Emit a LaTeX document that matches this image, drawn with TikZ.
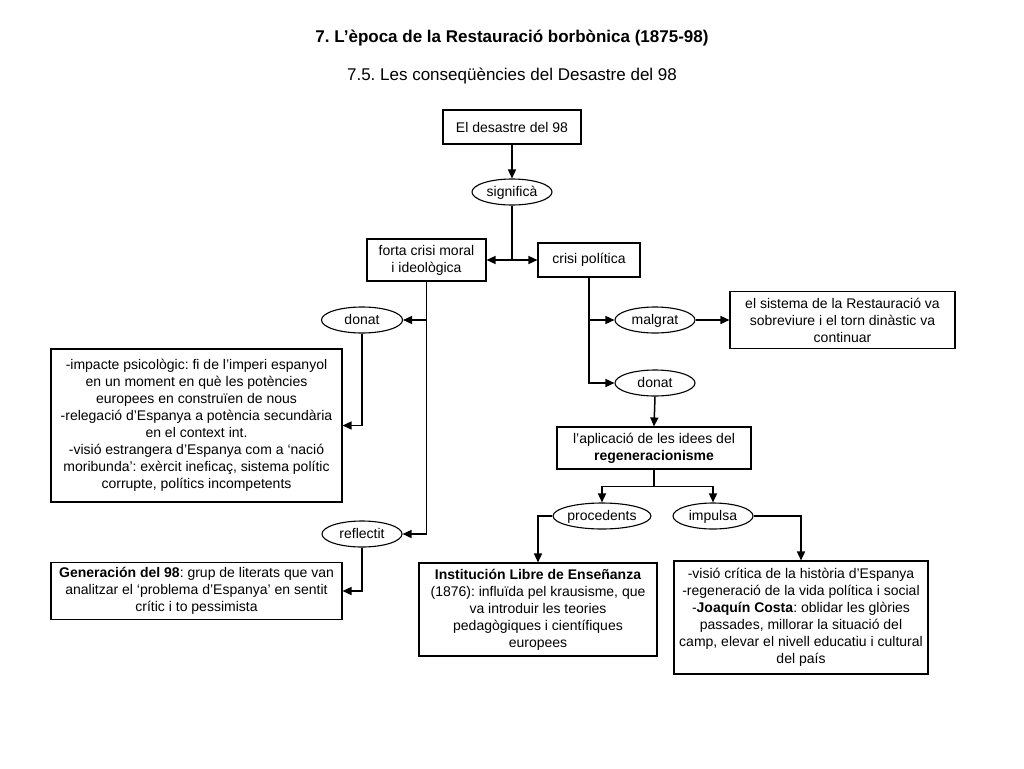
\documentclass[tikz,border=0pt]{standalone}
\usepackage{fontspec}
\setmainfont{Liberation Sans}
\usetikzlibrary{shapes.geometric,arrows.meta}
\frenchspacing
\begin{document}
\begin{tikzpicture}[x=1pt,y=-1pt,
  every node/.style={font=\fontsize{14}{17}\selectfont},
  box/.style={draw, line width=1.1pt, rectangle, align=center, inner sep=0pt},
  oval/.style={draw, line width=1.1pt, ellipse, inner sep=0pt, minimum width=80pt, minimum height=26pt, text height=10pt, text depth=2pt},
  conn/.style={line width=1.5pt},
  arr/.style={line width=1.5pt, -{Triangle[length=9pt,width=8pt]}},
  titletext/.style={font=\fontsize{17}{20}\selectfont\bfseries},
  subtext/.style={font=\fontsize{17}{20}\selectfont}
]
\useasboundingbox (0,0) rectangle (1024,768);
\fill[white] (0,0) rectangle (1024,768);

\node[titletext] (title) at (512,38) {7. L’època de la Restauració borbònica (1875-98)};
\node[subtext] (subtitle) at (512,76) {7.5. Les conseqüències del Desastre del 98};

\node[box, minimum width=138pt, minimum height=34pt] (desastre) at (512,127) {El desastre del 98};
\node[oval] (signif) at (512,192) {significà};
\node[box, minimum width=119pt, minimum height=42pt] (forta) at (426.5,260) {forta crisi moral\\i ideològica};
\node[box, minimum width=102pt, minimum height=34pt] (crisi) at (589,260) {crisi política};

\node[oval, minimum width=81pt] (donatL) at (362,320) {donat};
\node[box, minimum width=291pt, minimum height=153pt] (impacte) at (196.5,425.5)
  {-impacte psicològic: fi de l’imperi espanyol\\en un moment en què les potències\\europees en construïen de nous\\-relegació d’Espanya a potència secundària\\en el context int.\\-visió estrangera d’Espanya com a ‘nació\\moribunda’: exèrcit ineficaç, sistema polític\\corrupte, polítics incompetents};
\node[oval] (reflectit) at (362,534) {reflectit};
\node[box, minimum width=291pt, minimum height=57pt] (gen) at (196.5,591)
  {\textbf{Generación del 98}: grup de literats que van\\analitzar el ‘problema d’Espanya’ en sentit\\crític i to pessimista};

\node[oval] (malgrat) at (655,320) {malgrat};
\node[box, minimum width=225pt, minimum height=57pt] (restaur) at (842.5,320)
  {el sistema de la Restauració va\\sobreviure i el torn dinàstic va\\continuar};
\node[oval] (donatR) at (655,383) {donat};
\node[box, minimum width=194pt, minimum height=42pt] (regen) at (654,448)
  {l’aplicació de les idees del\\\textbf{regeneracionisme}};
\node[oval, minimum width=79pt] (proced) at (602,516) {procedents};
\node[oval] (impulsa) at (713,516) {impulsa};
\node[box, minimum width=238pt, minimum height=93pt] (ile) at (538,609.5)
  {\textbf{Institución Libre de Enseñanza}\\(1876): influïda pel krausisme, que\\va introduir les teories\\pedagògiques i científiques\\europees};
\node[box, minimum width=254pt, minimum height=113pt] (rightbox) at (801,617.5)
  {-visió crítica de la història d’Espanya\\-regeneració de la vida política i social\\-\textbf{Joaquín Costa}: oblidar les glòries\\passades, millorar la situació del\\camp, elevar el nivell educatiu i cultural\\del país};

% connectors
\draw[arr] (desastre.south) -- (signif.north);
\coordinate (j1) at (signif |- forta);
\draw[conn] (signif.south) -- (j1);
\draw[arr] (j1) -- (forta.east);
\draw[arr] (j1) -- (crisi.west);

\draw[arr] (forta.south) |- (reflectit.east);
\draw[arr] (forta.south |- donatL) -- (donatL.east);
\draw[arr] (donatL.south) |- (impacte.east);
\draw[arr] (reflectit.south) |- (gen.east);

\draw[arr] (crisi.south) |- (donatR.west);
\draw[arr] (crisi.south |- malgrat) -- (malgrat.west);
\draw[arr] (malgrat.east) -- (restaur.west);
\draw[arr] (donatR.south) -- (regen.north);

\coordinate (j2) at ([yshift=-17pt]regen.south);
\draw[conn] (regen.south) -- (j2);
\draw[arr] (j2) -| (proced.north);
\draw[arr] (j2) -| (impulsa.north);
\draw[arr] (proced.west) -| (ile.north);
\draw[arr] (impulsa.east) -| (rightbox.north);
\end{tikzpicture}
\end{document}
